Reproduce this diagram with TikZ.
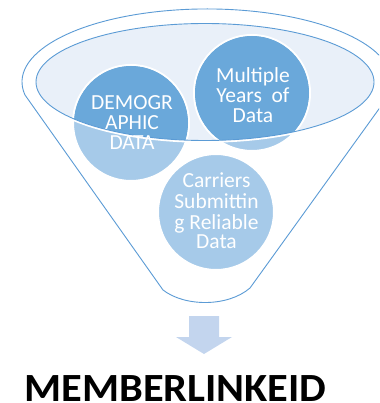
\documentclass[tikz,border=0pt]{standalone}
\usepackage{fontspec}
\usepackage{graphicx}
\setmainfont{Carlito}
\definecolor{linec}{HTML}{5B9BD5}
\definecolor{ellfill}{HTML}{E9F0F9}
\definecolor{circlight}{HTML}{A6CAE9}
\definecolor{circdark}{HTML}{6AA8DA}
\definecolor{arrowc}{HTML}{C3D5EE}
\tikzset{
  funnelline/.style={draw=linec, line width=0.9pt},
  bubble/.style={circle, minimum size=116pt, inner sep=0pt, fill=circlight, draw=white, line width=2pt},
  bubbletext/.style={text=white, font=\fontsize{21.5}{19.5}\selectfont, inner sep=0pt},
  titletext/.style={font=\fontsize{40}{44}\selectfont\bfseries, text=black, inner sep=0pt}
}
\begin{document}
\begin{tikzpicture}[x=1pt,y=-1pt]
\useasboundingbox (0,0) rectangle (379,403);
\clip (0,0) rectangle (379,403);
% funnel outline
\draw[funnelline, fill=white] (25,95) arc[start angle=169.7, end angle=370.3, x radius=185, y radius=73]
  -- (250,288) .. controls (228,307) and (185,307) .. (163,290) -- cycle;
% inner ellipse
\coordinate (ec) at (205,82);
\fill[ellfill] (ec) ellipse[x radius=169, y radius=58.5];
% bubbles
\node[bubble] (demo) at (131,123) {};
\node[bubble] (years) at (252,93) {};
\node[bubble] (carr) at (216,212) {};
\begin{scope}
  \clip (ec) ellipse[x radius=169, y radius=58.5];
  \fill[circdark] (demo) circle[radius=57];
  \fill[circdark] (years) circle[radius=57];
\end{scope}
\draw[white, line width=2.2pt] (ec) ellipse[x radius=170.2, y radius=59.7];
\draw[funnelline] (ec) ellipse[x radius=169, y radius=58.5];
% texts
\node[bubbletext] (demot) at (132,125.6) {\begin{tabular}{@{}c@{}}DEMOGR\\APHIC\\DATA\end{tabular}};
\node[bubbletext] (yearst) at (253,97.6) {\begin{tabular}{@{}c@{}}Multiple\\Years\ \ of\\Data\end{tabular}};
\node[bubbletext, font=\fontsize{21.5}{19.3}\selectfont] (carrt) at (216.5,213.6) {\begin{tabular}{@{}c@{}}Carriers\\Submittin\\g Reliable\\Data\end{tabular}};
% arrow
\fill[arrowc] (189,316) -- (219,316) -- (219,337) -- (232,337) -- (204,354) -- (176,337) -- (189,337) -- cycle;
\node[titletext, anchor=base] (title) at (175.5,401) {\raisebox{0pt}[\height][0pt]{\scalebox{1.06}[1]{MEMBERLINKEID}}};
\end{tikzpicture}
\end{document}
